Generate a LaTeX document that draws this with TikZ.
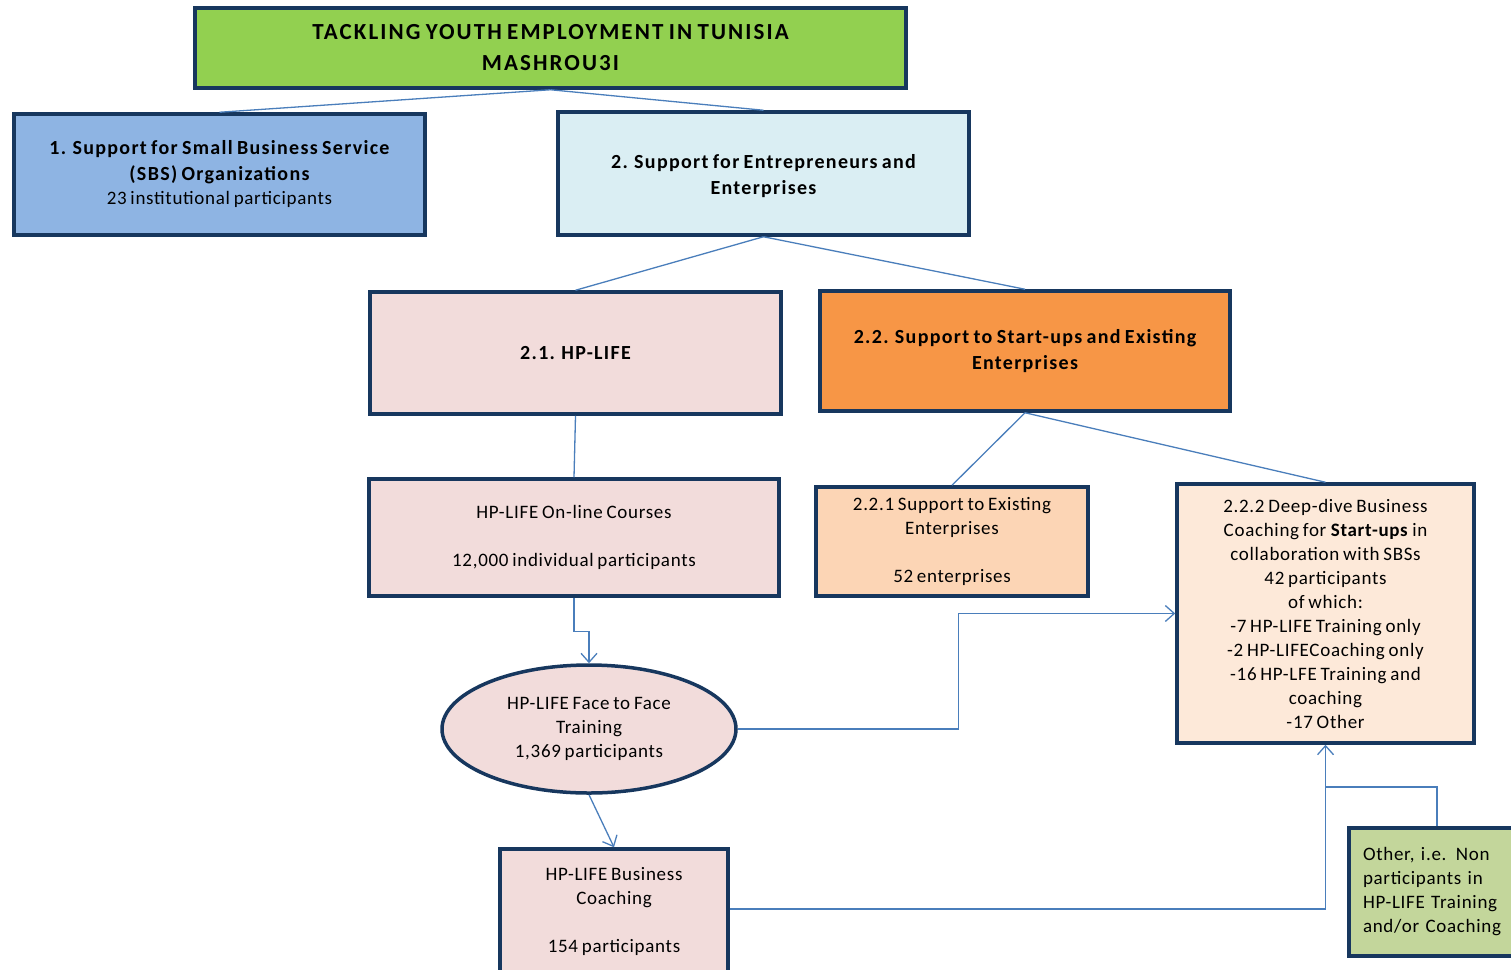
\documentclass[tikz,border=0pt]{standalone}
\usepackage{fontspec}
\setmainfont{Carlito}[LetterSpace=3.7, WordSpace=0.75]
\usetikzlibrary{arrows.meta,shapes.geometric}

\definecolor{navy}{RGB}{23,55,94}
\definecolor{linkblue}{RGB}{74,126,187}
\definecolor{titlegreen}{RGB}{146,208,80}
\definecolor{sbsblue}{RGB}{142,180,227}
\definecolor{paleblue}{RGB}{218,238,243}
\definecolor{palepink}{RGB}{242,220,219}
\definecolor{deeporange}{RGB}{247,150,70}
\definecolor{peach}{RGB}{252,213,181}
\definecolor{palepeach}{RGB}{253,233,217}
\definecolor{olivegreen}{RGB}{195,214,155}

\begin{document}
\begin{tikzpicture}[x=1pt,y=-1pt,
  box/.style={draw=navy, line width=3.5pt, align=center, inner sep=0pt,
    font=\fontsize{19}{24}\selectfont},
  head/.style={box, font=\fontsize{20}{26}\selectfont\bfseries\addfontfeature{LetterSpace=6.5}},
  link/.style={draw=linkblue, line width=1.3pt},
  tip/.style={-{Straight Barb[length=9pt,width=16pt]}},
]
  \useasboundingbox (0,0) rectangle (1511,969); % page size

  % boxes
  \node[head, fill=titlegreen, minimum width=711pt, minimum height=80pt,
    font=\fontsize{23}{31}\selectfont\bfseries\addfontfeature{LetterSpace=9}] (title) at (550.5,48)
    {TACKLING YOUTH EMPLOYMENT IN TUNISIA\\ MASHROU3I};
  \node[head, fill=sbsblue, minimum width=411pt, minimum height=121pt] (sbs) at (219.5,174.5)
    {1. Support for Small Business Service\\ (SBS) Organizations\\[-2pt]
     \fontsize{19}{24}\selectfont\mdseries\addfontfeature{LetterSpace=3.7} 23 institutional participants};
  \node[head, fill=paleblue, minimum width=411pt, minimum height=123pt] (entre) at (763.5,173.5)
    {\\[-6pt]2. Support for Entrepreneurs and\\ Enterprises};
  \node[head, fill=palepink, minimum width=411pt, minimum height=122pt] (hplife) at (575.5,353)
    {2.1. HP-LIFE};
  \node[head, fill=deeporange, minimum width=410pt, minimum height=120pt] (startup) at (1025,351)
    {2.2. Support to Start-ups and Existing\\ Enterprises};
  \node[box, fill=palepink, minimum width=410pt, minimum height=117pt] (online) at (574,537.5)
    {HP-LIFE On-line Courses\\[24pt] 12,000 individual participants};
  \node[box, fill=peach, minimum width=272pt, minimum height=109pt] (existing) at (952,541.5)
    {2.2.1 Support to Existing\\ Enterprises\\[24pt] 52 enterprises};
  \node[box, fill=palepeach, minimum width=297pt, minimum height=259pt] (deepdive) at (1325.5,613.5)
    {2.2.2 Deep-dive Business\\ Coaching for \textbf{Start-ups} in\\ collaboration with SBSs\\
     42 participants\\ of which:\\ -7 HP-LIFE Training only\\ -2 HP-LIFECoaching only\\
     -16 HP-LFE Training and\\ coaching\\ -17 Other};
  \node[box, ellipse, fill=palepink, minimum width=294pt, minimum height=128pt] (f2f) at (589,729)
    {HP-LIFE Face to Face\\ Training\\ 1,369 participants};
  \node[box, fill=palepink, minimum width=228pt, minimum height=124pt] (coaching) at (614,911)
    {HP-LIFE Business\\ Coaching\\[24pt] 154 participants};
  \node[box, fill=olivegreen, minimum width=176pt, minimum height=128pt, align=left,
    text width=148pt] (other) at (1437,892)
    {Other, i.e. Non\\ participants in\\ HP-LIFE Training\\ and/or Coaching};
  \coordinate (join) at (1325.5,787);

  % tree
  \draw[link] (title.south) -- (sbs.north);
  \draw[link] (title.south) -- (entre.north);
  \draw[link] (entre.south) -- (hplife.north);
  \draw[link] (entre.south) -- (startup.north);
  \draw[link] (hplife.south) -- (online.north);
  \draw[link] (startup.south) -- (existing.north);
  \draw[link] (startup.south) -- (deepdive.north);

  % flows
  \draw[link, tip] (online.south) -- ++(0,34) -| (f2f.north);
  \draw[link, tip] (f2f.south) -- (coaching.north);
  \draw[link, tip] (f2f.east) -- ++(221,0) |- (deepdive.west);
  \draw[link, tip] (coaching.east |- 0,909) -| (deepdive.south);
  \draw[link] (other.north) |- (join);
\end{tikzpicture}
\end{document}
